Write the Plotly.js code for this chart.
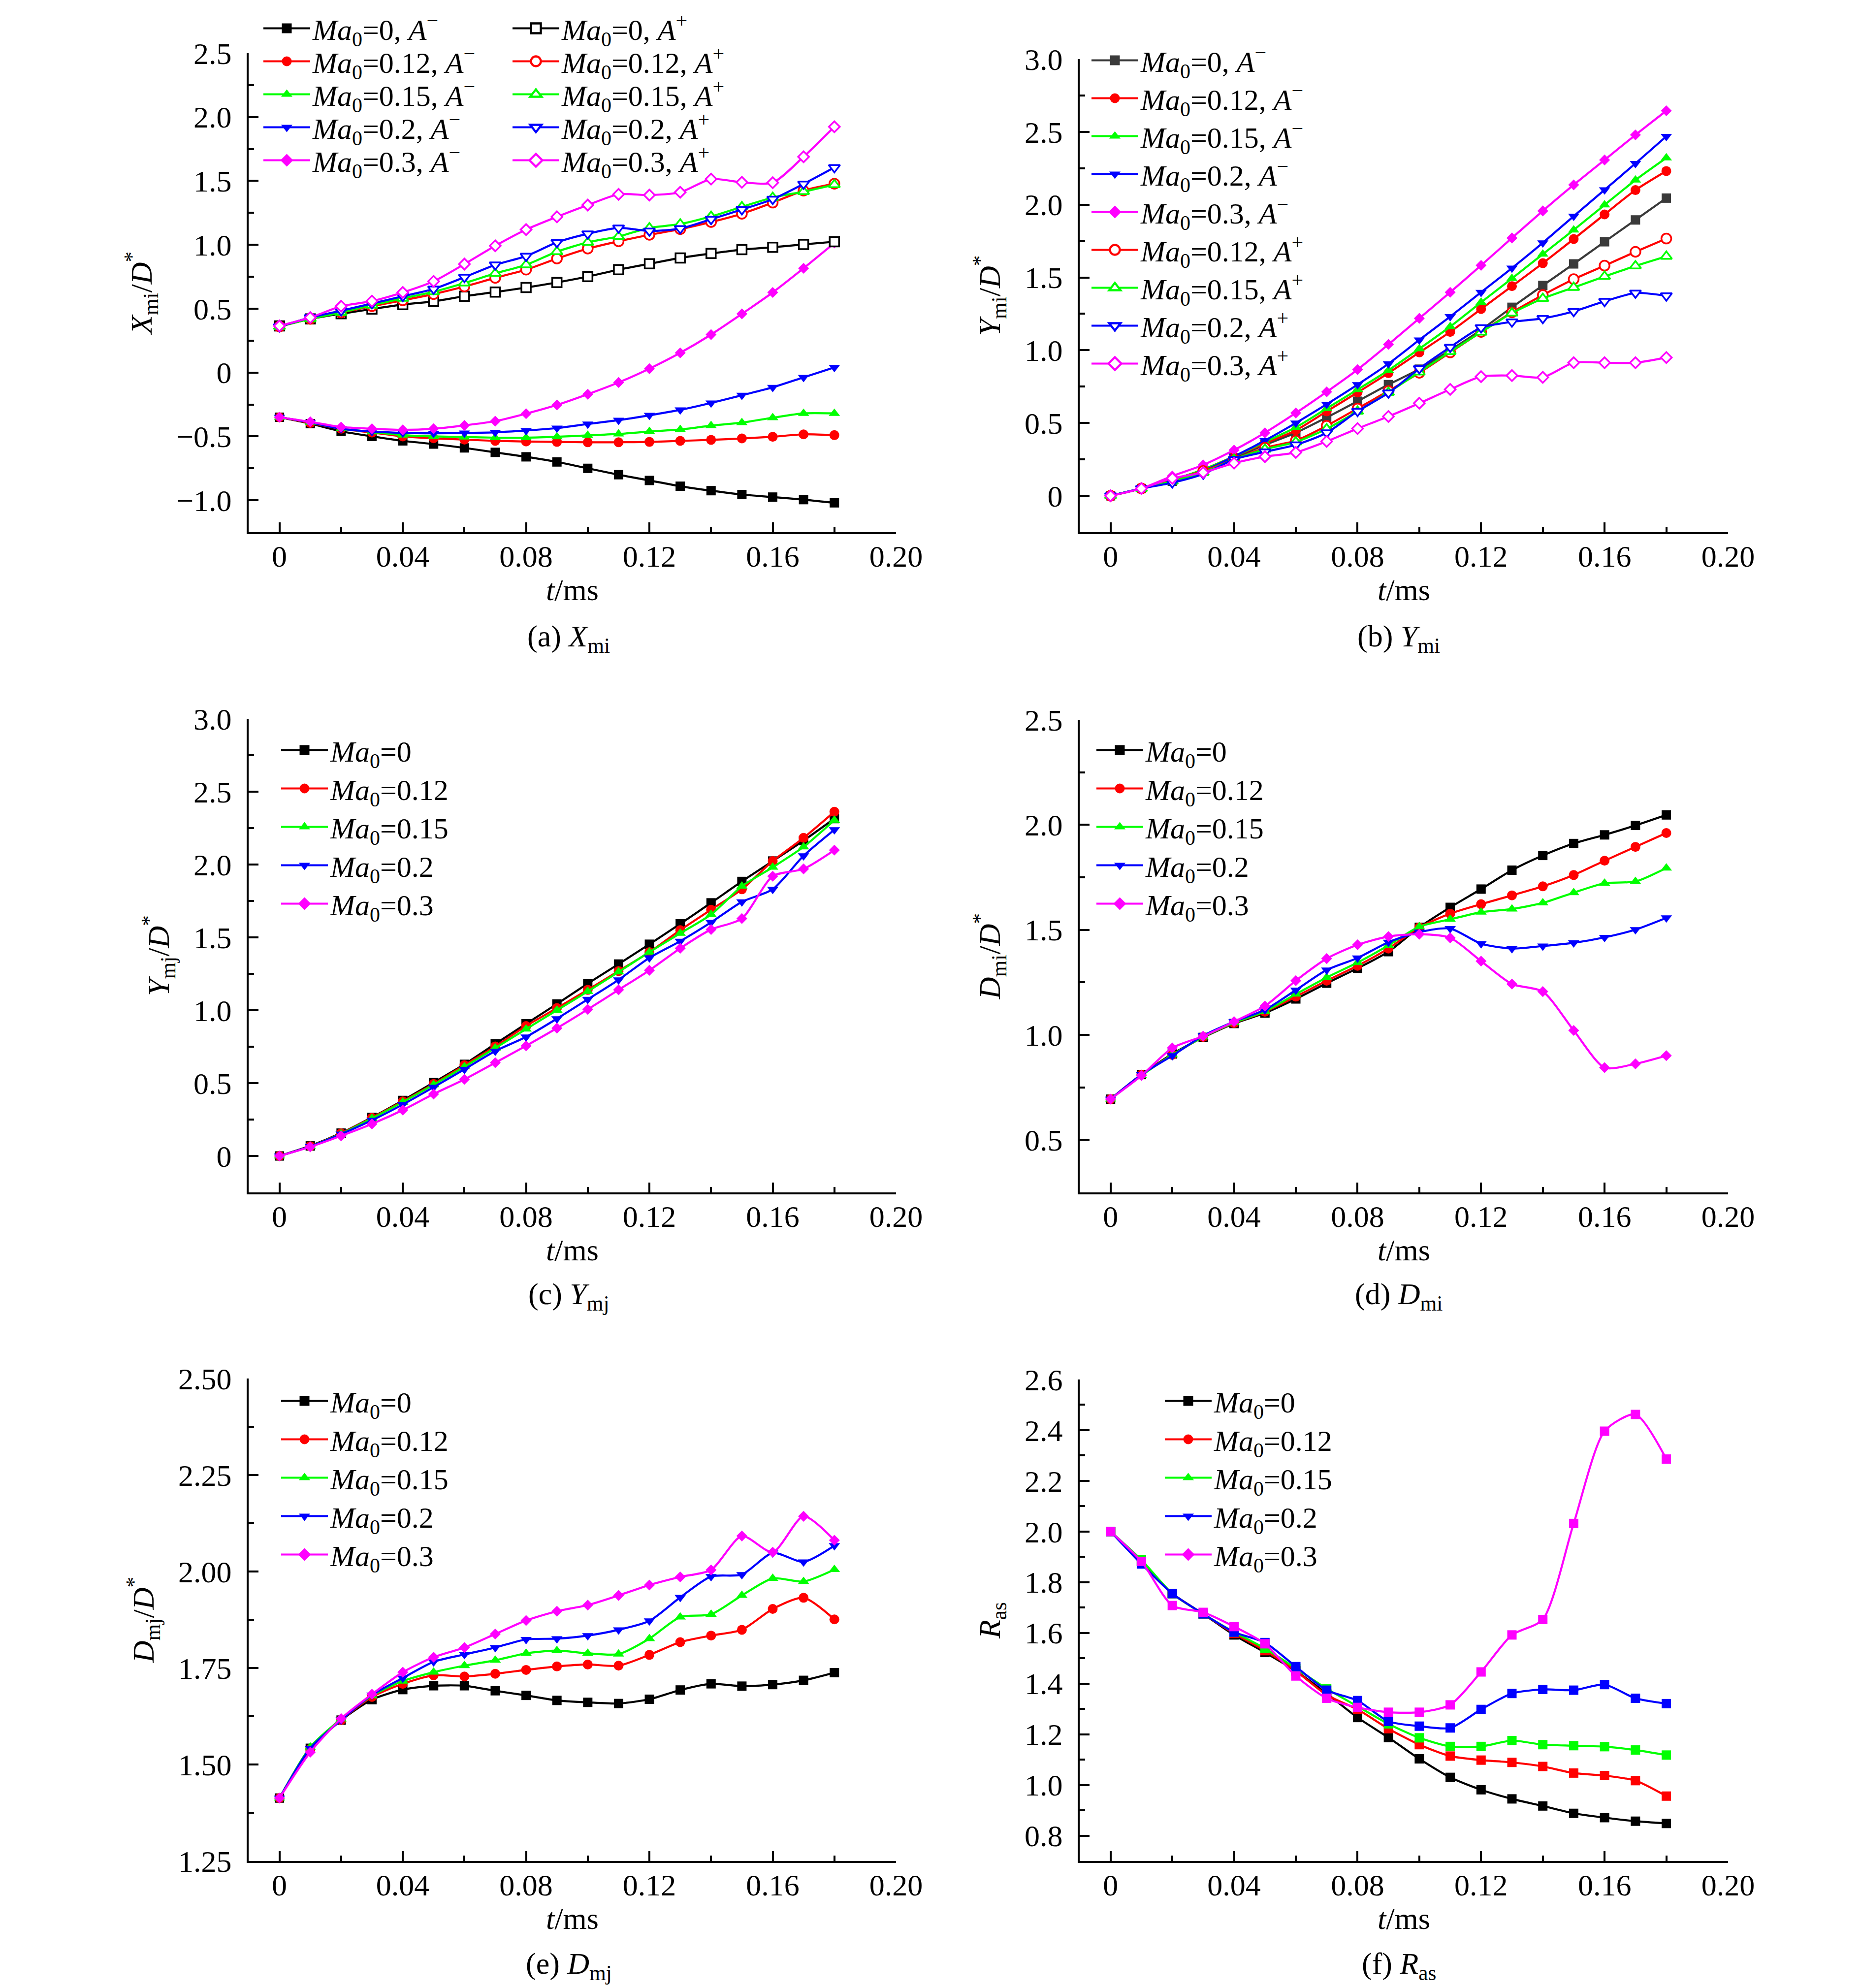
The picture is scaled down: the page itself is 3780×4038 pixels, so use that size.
<!DOCTYPE html>
<html>
<head>
<meta charset="utf-8">
<script src="https://cdn.plot.ly/plotly-3.0.1.min.js"></script>
<style>
  html, body { margin: 0; padding: 0; background: #fff; }
  #chart { width: 3780px; height: 4038px; }
</style>
</head>
<body>
<div id="chart"></div>
<script>
// time axis (ms), shared by all six panels
const tMs = [0, 0.01, 0.02, 0.03, 0.04, 0.05, 0.06, 0.07, 0.08, 0.09, 0.10, 0.11, 0.12, 0.13, 0.14, 0.15, 0.16, 0.17, 0.18];

// (a) X_mi / D*
const xmiNeg0   = [-0.35, -0.40, -0.46, -0.50, -0.535, -0.56, -0.59, -0.625, -0.66, -0.70, -0.75, -0.80, -0.845, -0.89, -0.925, -0.955, -0.975, -0.995, -1.02];
const xmiNeg012 = [-0.35, -0.395, -0.44, -0.47, -0.50, -0.515, -0.525, -0.535, -0.54, -0.543, -0.546, -0.546, -0.543, -0.535, -0.527, -0.516, -0.503, -0.484, -0.49];
const xmiNeg015 = [-0.35, -0.39, -0.44, -0.465, -0.49, -0.50, -0.505, -0.51, -0.51, -0.503, -0.492, -0.481, -0.462, -0.446, -0.416, -0.392, -0.354, -0.32, -0.32];
const xmiNeg02  = [-0.35, -0.39, -0.44, -0.462, -0.473, -0.476, -0.473, -0.468, -0.454, -0.435, -0.403, -0.373, -0.335, -0.292, -0.238, -0.178, -0.116, -0.038, 0.04];
const xmiNeg03  = [-0.35, -0.386, -0.427, -0.44, -0.449, -0.44, -0.414, -0.381, -0.322, -0.254, -0.17, -0.078, 0.03, 0.154, 0.297, 0.459, 0.627, 0.816, 1.014];
const xmiPos0   = [0.365, 0.42, 0.46, 0.497, 0.532, 0.557, 0.597, 0.63, 0.665, 0.705, 0.751, 0.805, 0.851, 0.897, 0.932, 0.962, 0.981, 1.003, 1.024];
const xmiPos012 = [0.36, 0.42, 0.47, 0.519, 0.565, 0.614, 0.673, 0.741, 0.805, 0.892, 0.97, 1.027, 1.078, 1.122, 1.178, 1.243, 1.33, 1.424, 1.478];
const xmiPos015 = [0.36, 0.42, 0.47, 0.527, 0.581, 0.632, 0.70, 0.776, 0.843, 0.946, 1.019, 1.065, 1.132, 1.162, 1.222, 1.297, 1.37, 1.416, 1.47];
const xmiPos02  = [0.36, 0.43, 0.484, 0.54, 0.597, 0.654, 0.746, 0.843, 0.911, 1.019, 1.086, 1.132, 1.108, 1.127, 1.20, 1.276, 1.357, 1.476, 1.605];
const xmiPos03  = [0.365, 0.43, 0.519, 0.559, 0.627, 0.714, 0.849, 0.992, 1.119, 1.219, 1.311, 1.395, 1.389, 1.411, 1.514, 1.489, 1.486, 1.689, 1.924];

// (b) Y_mi / D*
const ymiNeg0   = [0, 0.05, 0.10, 0.17, 0.26, 0.35, 0.433, 0.538, 0.65, 0.764, 0.87, 1.0, 1.14, 1.295, 1.445, 1.593, 1.745, 1.895, 2.045];
const ymiNeg012 = [0, 0.05, 0.11, 0.18, 0.27, 0.36, 0.45, 0.58, 0.71, 0.843, 0.985, 1.126, 1.283, 1.44, 1.598, 1.764, 1.933, 2.10, 2.231];
const ymiNeg015 = [0, 0.05, 0.11, 0.18, 0.27, 0.37, 0.47, 0.60, 0.73, 0.862, 1.01, 1.162, 1.329, 1.493, 1.66, 1.826, 1.998, 2.169, 2.321];
const ymiNeg02  = [0, 0.05, 0.10, 0.17, 0.27, 0.38, 0.50, 0.629, 0.764, 0.907, 1.071, 1.231, 1.398, 1.564, 1.738, 1.921, 2.102, 2.283, 2.469];
const ymiNeg03  = [0, 0.05, 0.136, 0.212, 0.314, 0.433, 0.569, 0.714, 0.867, 1.04, 1.219, 1.398, 1.583, 1.771, 1.957, 2.136, 2.307, 2.479, 2.645];
const ymiPos012 = [0, 0.05, 0.11, 0.17, 0.25, 0.33, 0.379, 0.481, 0.60, 0.72, 0.845, 0.985, 1.126, 1.26, 1.379, 1.488, 1.581, 1.676, 1.767];
const ymiPos015 = [0, 0.05, 0.10, 0.16, 0.25, 0.32, 0.37, 0.46, 0.58, 0.71, 0.85, 0.99, 1.124, 1.255, 1.355, 1.431, 1.507, 1.579, 1.645];
const ymiPos02  = [0, 0.05, 0.09, 0.15, 0.25, 0.302, 0.35, 0.433, 0.581, 0.707, 0.874, 1.021, 1.155, 1.195, 1.219, 1.267, 1.336, 1.393, 1.374];
const ymiPos03  = [0, 0.05, 0.12, 0.16, 0.224, 0.269, 0.298, 0.374, 0.462, 0.545, 0.636, 0.731, 0.819, 0.826, 0.814, 0.914, 0.914, 0.914, 0.95];

// (c) Y_mj / D*
const ymj0   = [0, 0.069, 0.157, 0.265, 0.381, 0.504, 0.629, 0.769, 0.907, 1.043, 1.183, 1.317, 1.453, 1.593, 1.737, 1.884, 2.024, 2.164, 2.315];
const ymj012 = [0, 0.067, 0.155, 0.262, 0.375, 0.494, 0.623, 0.752, 0.892, 1.015, 1.14, 1.269, 1.399, 1.55, 1.69, 1.83, 2.024, 2.183, 2.362];
const ymj015 = [0, 0.066, 0.152, 0.258, 0.37, 0.489, 0.612, 0.741, 0.871, 1.0, 1.129, 1.263, 1.399, 1.528, 1.657, 1.851, 1.981, 2.121, 2.304];
const ymj02  = [0, 0.066, 0.15, 0.245, 0.353, 0.472, 0.595, 0.72, 0.817, 0.942, 1.075, 1.209, 1.36, 1.474, 1.603, 1.744, 1.83, 2.06, 2.239];
const ymj03  = [0, 0.0625, 0.138, 0.22, 0.315, 0.425, 0.526, 0.64, 0.756, 0.877, 1.006, 1.14, 1.274, 1.425, 1.554, 1.629, 1.92, 1.97, 2.099];

// (d) D_mi / D*
const dmi0   = [0.694, 0.811, 0.909, 0.988, 1.054, 1.104, 1.171, 1.246, 1.317, 1.396, 1.512, 1.607, 1.694, 1.784, 1.854, 1.911, 1.952, 1.997, 2.047];
const dmi012 = [0.694, 0.811, 0.905, 0.99, 1.056, 1.11, 1.182, 1.258, 1.329, 1.411, 1.512, 1.577, 1.622, 1.664, 1.707, 1.761, 1.829, 1.895, 1.961];
const dmi015 = [0.694, 0.806, 0.905, 0.99, 1.058, 1.112, 1.194, 1.273, 1.344, 1.426, 1.515, 1.55, 1.584, 1.599, 1.628, 1.677, 1.722, 1.73, 1.794];
const dmi02  = [0.694, 0.811, 0.901, 0.996, 1.063, 1.119, 1.213, 1.309, 1.366, 1.441, 1.489, 1.506, 1.434, 1.411, 1.423, 1.438, 1.464, 1.501, 1.557];
const dmi03  = [0.694, 0.806, 0.938, 0.994, 1.063, 1.137, 1.258, 1.363, 1.429, 1.468, 1.479, 1.462, 1.351, 1.242, 1.206, 1.021, 0.844, 0.862, 0.901];

// (e) D_mj / D*
const dmj0   = [1.413, 1.542, 1.615, 1.668, 1.694, 1.704, 1.704, 1.691, 1.679, 1.666, 1.661, 1.658, 1.669, 1.693, 1.709, 1.703, 1.707, 1.718, 1.738];
const dmj012 = [1.413, 1.54, 1.615, 1.675, 1.709, 1.731, 1.728, 1.735, 1.745, 1.754, 1.759, 1.756, 1.784, 1.817, 1.834, 1.849, 1.903, 1.932, 1.876];
const dmj015 = [1.413, 1.545, 1.618, 1.678, 1.716, 1.739, 1.756, 1.77, 1.788, 1.795, 1.788, 1.786, 1.826, 1.882, 1.889, 1.938, 1.982, 1.974, 2.005];
const dmj02  = [1.413, 1.542, 1.615, 1.68, 1.724, 1.766, 1.785, 1.803, 1.824, 1.826, 1.834, 1.849, 1.872, 1.933, 1.987, 1.992, 2.048, 2.025, 2.067];
const dmj03  = [1.413, 1.532, 1.619, 1.682, 1.739, 1.778, 1.803, 1.838, 1.873, 1.897, 1.913, 1.938, 1.965, 1.986, 2.004, 2.092, 2.05, 2.143, 2.081];

// (f) R_as
const ras0   = [2.0, 1.882, 1.755, 1.675, 1.592, 1.523, 1.45, 1.361, 1.266, 1.187, 1.103, 1.03, 0.981, 0.945, 0.917, 0.888, 0.871, 0.857, 0.848];
const ras012 = [2.0, 1.882, 1.755, 1.675, 1.598, 1.53, 1.45, 1.355, 1.298, 1.222, 1.159, 1.114, 1.098, 1.089, 1.073, 1.047, 1.037, 1.017, 0.956];
const ras015 = [2.0, 1.888, 1.755, 1.675, 1.603, 1.539, 1.46, 1.38, 1.31, 1.241, 1.186, 1.152, 1.152, 1.175, 1.159, 1.155, 1.151, 1.138, 1.118];
const ras02  = [2.0, 1.872, 1.755, 1.675, 1.603, 1.562, 1.467, 1.374, 1.333, 1.251, 1.232, 1.225, 1.298, 1.361, 1.377, 1.374, 1.396, 1.342, 1.321];
const ras03  = [2.0, 1.882, 1.708, 1.681, 1.625, 1.557, 1.43, 1.342, 1.306, 1.287, 1.287, 1.316, 1.446, 1.592, 1.653, 2.032, 2.396, 2.462, 2.286];

// tick labels
const tTickVals = [0, 0.04, 0.08, 0.12, 0.16, 0.20];
const tTickText = ["0", "0.04", "0.08", "0.12", "0.16", "0.20"];
const xmiTickVals = [-1.0, -0.5, 0, 0.5, 1.0, 1.5, 2.0, 2.5];
const xmiTickText = ["\u22121.0", "\u22120.5", "0", "0.5", "1.0", "1.5", "2.0", "2.5"];
const yTickVals = [0, 0.5, 1.0, 1.5, 2.0, 2.5, 3.0];
const yTickText = ["0", "0.5", "1.0", "1.5", "2.0", "2.5", "3.0"];
const dmiTickVals = [0.5, 1.0, 1.5, 2.0, 2.5];
const dmiTickText = ["0.5", "1.0", "1.5", "2.0", "2.5"];
const dmjTickVals = [1.25, 1.50, 1.75, 2.00, 2.25, 2.50];
const dmjTickText = ["1.25", "1.50", "1.75", "2.00", "2.25", "2.50"];
const rasTickVals = [0.8, 1.0, 1.2, 1.4, 1.6, 1.8, 2.0, 2.2, 2.4, 2.6];
const rasTickText = ["0.8", "1.0", "1.2", "1.4", "1.6", "1.8", "2.0", "2.2", "2.4", "2.6"];

const W = 3780, H = 4038;
const px = v => v / W;
const py = v => 1 - v / H;
const FONT = "Liberation Serif, Times New Roman, serif";
const FS = 62;

const BLACK = "#000000", RED = "#ff0000", GREEN = "#00ff00", BLUE = "#0000ff", MAGENTA = "#ff00ff";
const SIZES = { "square": 19, "circle": 20, "triangle-up": 20, "triangle-down": 20, "diamond": 17 };

const ma = v => "<i>Ma</i><sub>0</sub>=" + v;
const minus = ", <i>A</i><sup>\u2212</sup>";
const plus = ", <i>A</i><sup>+</sup>";

function series(n, y, color, symbol, name, legend, hollow) {
  return {
    type: "scatter", mode: "lines+markers",
    x: tMs, y: y,
    xaxis: n === 1 ? "x" : "x" + n, yaxis: n === 1 ? "y" : "y" + n,
    name: name, legend: legend, showlegend: !!name,
    line: { color: color, width: 4.2, shape: "spline", smoothing: 0.7 },
    marker: {
      symbol: symbol, size: SIZES[symbol],
      color: hollow ? "#ffffff" : color,
      line: { color: color, width: hollow ? 3.5 : 0 }
    }
  };
}

// legend-only sample (panel f draws every curve with squares but keys them with other symbols)
function key(n, color, symbol, name, legend) {
  const tr = series(n, [null], color, symbol, name, legend, false);
  tr.x = [null];
  return tr;
}

const traces = [
  series(1, xmiNeg0, BLACK, "square", ma("0") + minus, "legend"),
  series(1, xmiNeg012, RED, "circle", ma("0.12") + minus, "legend"),
  series(1, xmiNeg015, GREEN, "triangle-up", ma("0.15") + minus, "legend"),
  series(1, xmiNeg02, BLUE, "triangle-down", ma("0.2") + minus, "legend"),
  series(1, xmiNeg03, MAGENTA, "diamond", ma("0.3") + minus, "legend"),
  series(1, xmiPos0, BLACK, "square", ma("0") + plus, "legend2", true),
  series(1, xmiPos012, RED, "circle", ma("0.12") + plus, "legend2", true),
  series(1, xmiPos015, GREEN, "triangle-up", ma("0.15") + plus, "legend2", true),
  series(1, xmiPos02, BLUE, "triangle-down", ma("0.2") + plus, "legend2", true),
  series(1, xmiPos03, MAGENTA, "diamond", ma("0.3") + plus, "legend2", true),

  series(2, ymiNeg0, "#3a3a3a", "square", ma("0") + minus, "legend3"),
  series(2, ymiNeg012, RED, "circle", ma("0.12") + minus, "legend3"),
  series(2, ymiNeg015, GREEN, "triangle-up", ma("0.15") + minus, "legend3"),
  series(2, ymiNeg02, BLUE, "triangle-down", ma("0.2") + minus, "legend3"),
  series(2, ymiNeg03, MAGENTA, "diamond", ma("0.3") + minus, "legend3"),
  series(2, ymiPos012, RED, "circle", ma("0.12") + plus, "legend3", true),
  series(2, ymiPos015, GREEN, "triangle-up", ma("0.15") + plus, "legend3", true),
  series(2, ymiPos02, BLUE, "triangle-down", ma("0.2") + plus, "legend3", true),
  series(2, ymiPos03, MAGENTA, "diamond", ma("0.3") + plus, "legend3", true),

  series(3, ymj0, BLACK, "square", ma("0"), "legend4"),
  series(3, ymj012, RED, "circle", ma("0.12"), "legend4"),
  series(3, ymj015, GREEN, "triangle-up", ma("0.15"), "legend4"),
  series(3, ymj02, BLUE, "triangle-down", ma("0.2"), "legend4"),
  series(3, ymj03, MAGENTA, "diamond", ma("0.3"), "legend4"),

  series(4, dmi0, BLACK, "square", ma("0"), "legend5"),
  series(4, dmi012, RED, "circle", ma("0.12"), "legend5"),
  series(4, dmi015, GREEN, "triangle-up", ma("0.15"), "legend5"),
  series(4, dmi02, BLUE, "triangle-down", ma("0.2"), "legend5"),
  series(4, dmi03, MAGENTA, "diamond", ma("0.3"), "legend5"),

  series(5, dmj0, BLACK, "square", ma("0"), "legend6"),
  series(5, dmj012, RED, "circle", ma("0.12"), "legend6"),
  series(5, dmj015, GREEN, "triangle-up", ma("0.15"), "legend6"),
  series(5, dmj02, BLUE, "triangle-down", ma("0.2"), "legend6"),
  series(5, dmj03, MAGENTA, "diamond", ma("0.3"), "legend6"),

  series(6, ras0, BLACK, "square", null, "legend7"),
  series(6, ras012, RED, "square", null, "legend7"),
  series(6, ras015, GREEN, "square", null, "legend7"),
  series(6, ras02, BLUE, "square", null, "legend7"),
  series(6, ras03, MAGENTA, "square", null, "legend7"),
  key(6, BLACK, "square", ma("0"), "legend7"),
  key(6, RED, "circle", ma("0.12"), "legend7"),
  key(6, GREEN, "triangle-up", ma("0.15"), "legend7"),
  key(6, BLUE, "triangle-down", ma("0.2"), "legend7"),
  key(6, MAGENTA, "diamond", ma("0.3"), "legend7")
];

const tickFont = { family: FONT, size: FS, color: "#000" };
const common = {
  showline: true, linecolor: "#000", linewidth: 4, mirror: false,
  showgrid: false, zeroline: false, automargin: false,
  ticks: "inside", ticklen: 20, tickwidth: 4, tickcolor: "#000",
  tickfont: tickFont, tickmode: "array"
};

function xAxis(left, right) {
  return Object.assign({}, common, {
    domain: [px(left), px(right)],
    range: [-0.01, 0.20],
    tickvals: tTickVals, ticktext: tTickText,
    ticklabelstandoff: -8,
    minor: { tickmode: "linear", tick0: 0, dtick: 0.02, ticks: "inside", ticklen: 11, tickwidth: 4, tickcolor: "#000" },
    title: { text: "<i>t</i>/ms", font: tickFont, standoff: 8 }
  });
}

function yAxis(topPx, bottomPx, range, vals, text, minorStep, title) {
  return Object.assign({}, common, {
    domain: [py(bottomPx), py(topPx)],
    range: range,
    tickvals: vals, ticktext: text,
    ticklabelstandoff: 18,
    minor: { tickmode: "linear", tick0: vals[0], dtick: minorStep, ticks: "inside", ticklen: 11, tickwidth: 4, tickcolor: "#000" },
    title: { text: title, font: tickFont, standoff: 30 }
  });
}

const L1 = 505, R1 = 1820, L2 = 2193, R2 = 3510;
const legendBase = {
  font: { family: FONT, size: 60, color: "#000" },
  bgcolor: "rgba(0,0,0,0)", borderwidth: 0,
  xanchor: "left", yanchor: "top", itemwidth: 95, tracegroupgap: 0
};
function legendAt(left, top) {
  return Object.assign({}, legendBase, { x: px(left), y: py(top) });
}
// row pitch of each key in the reference (px)
const legendPitch = { legend: 67, legend2: 67, legend3: 77, legend4: 78, legend5: 78, legend6: 78, legend7: 78 };

function caption(text, xc, yc) {
  return { text: text, xref: "paper", yref: "paper", x: px(xc), y: py(yc),
           xanchor: "center", yanchor: "middle", showarrow: false, font: tickFont };
}

const layout = {
  width: W, height: H,
  margin: { l: 0, r: 0, t: 0, b: 0 },
  paper_bgcolor: "#fff", plot_bgcolor: "#fff",
  font: { family: FONT, size: FS, color: "#000" },

  xaxis:  Object.assign(xAxis(L1, R1), { anchor: "y" }),
  yaxis:  Object.assign(yAxis(108, 1081, [-1.25, 2.5], xmiTickVals, xmiTickText, 0.25, "<i>X</i><sub>mi</sub>/<i>D</i><sup>*</sup>"), { anchor: "x" }),
  xaxis2: Object.assign(xAxis(L2, R2), { anchor: "y2" }),
  yaxis2: Object.assign(yAxis(120, 1081, [-0.25, 3.0], yTickVals, yTickText, 0.25, "<i>Y</i><sub>mi</sub>/<i>D</i><sup>*</sup>"), { anchor: "x2" }),
  xaxis3: Object.assign(xAxis(L1, R1), { anchor: "y3" }),
  yaxis3: Object.assign(yAxis(1460, 2422, [-0.25, 3.0], yTickVals, yTickText, 0.25, "<i>Y</i><sub>mj</sub>/<i>D</i><sup>*</sup>"), { anchor: "x3" }),
  xaxis4: Object.assign(xAxis(L2, R2), { anchor: "y4" }),
  yaxis4: Object.assign(yAxis(1462, 2422, [0.25, 2.5], dmiTickVals, dmiTickText, 0.25, "<i>D</i><sub>mi</sub>/<i>D</i><sup>*</sup>"), { anchor: "x4" }),
  xaxis5: Object.assign(xAxis(L1, R1), { anchor: "y5" }),
  yaxis5: Object.assign(yAxis(2800, 3780, [1.25, 2.5], dmjTickVals, dmjTickText, 0.125, "<i>D</i><sub>mj</sub>/<i>D</i><sup>*</sup>"), { anchor: "x5" }),
  xaxis6: Object.assign(xAxis(L2, R2), { anchor: "y6" }),
  yaxis6: Object.assign(yAxis(2802, 3780, [0.7, 2.6], rasTickVals, rasTickText, 0.1, "<i>R</i><sub>as</sub>"), { anchor: "x6" }),

  legend:  legendAt(530, 12),
  legend2: legendAt(1036, 12),
  legend3: legendAt(2212, 77),
  legend4: legendAt(566, 1478),
  legend5: legendAt(2222, 1478),
  legend6: legendAt(566, 2800),
  legend7: legendAt(2361, 2800),

  annotations: [
    caption("(a) <i>X</i><sub>mi</sub>", 1155, 1297),
    caption("(b) <i>Y</i><sub>mi</sub>", 2841, 1297),
    caption("(c) <i>Y</i><sub>mj</sub>", 1155, 2632),
    caption("(d) <i>D</i><sub>mi</sub>", 2841, 2632),
    caption("(e) <i>D</i><sub>mj</sub>", 1155, 3992),
    caption("(f) <i>R</i><sub>as</sub>", 2841, 3992)
  ]
};

Plotly.newPlot("chart", traces, layout, { staticPlot: true }).then(gd => {
  // tighten legend rows to the reference pitch and enlarge the key symbols
  Object.keys(legendPitch).forEach(id => {
    const lg = gd.querySelector("g." + id);
    if (!lg) return;
    const items = lg.querySelectorAll("g.traces");
    let y0 = null;
    items.forEach((it, i) => {
      const m = /translate\(\s*([-\d.e]+)[ ,]+([-\d.e]+)\s*\)/.exec(it.getAttribute("transform") || "");
      if (!m) return;
      if (y0 === null) y0 = parseFloat(m[2]);
      it.setAttribute("transform", "translate(" + m[1] + "," + (y0 + i * legendPitch[id]) + ")");
    });
    lg.querySelectorAll("path.scatterpts").forEach(p => {
      p.setAttribute("transform", (p.getAttribute("transform") || "") + " scale(1.25)");
    });
  });
});
</script>
</body>
</html>
